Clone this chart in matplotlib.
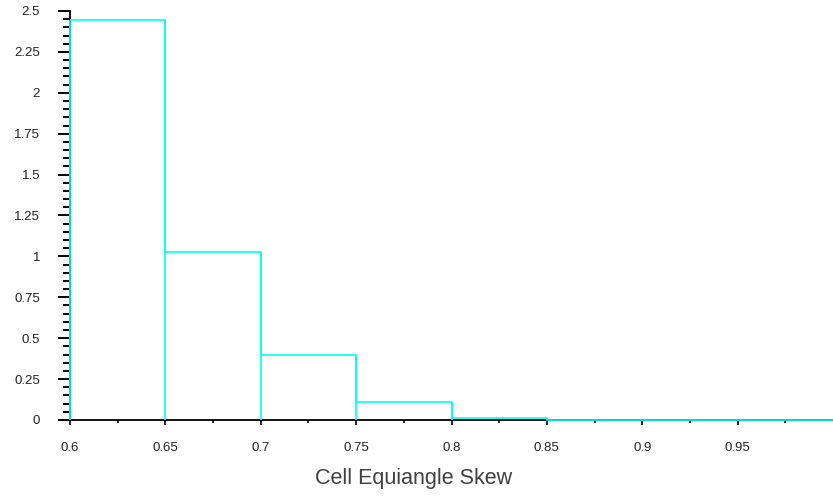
import numpy as np
import matplotlib
matplotlib.use("Agg")
import matplotlib.pyplot as plt
from matplotlib.ticker import FixedLocator, FuncFormatter

# bin edges and heights
bin_edges = [0.60, 0.65, 0.70, 0.75, 0.80, 0.85, 0.90, 0.95, 1.00]
bin_height = [2.445, 1.027, 0.40, 0.108, 0.012, 0.0, 0.0, 0.0]

x_major = [0.6, 0.65, 0.7, 0.75, 0.8, 0.85, 0.9, 0.95]
x_minor = [0.625, 0.675, 0.725, 0.775, 0.825, 0.875, 0.925, 0.975]
y_major = [0, 0.25, 0.5, 0.75, 1, 1.25, 1.5, 1.75, 2, 2.25, 2.5]
x_label = "Cell Equiangle Skew"

plt.rcParams['font.family'] = ['Liberation Sans', 'DejaVu Sans']

fig = plt.figure(figsize=(8.33, 4.96), dpi=100)
ax = fig.add_axes([70 / 833, 76 / 496, 763 / 833, 409 / 496])

cyan = '#00ffff'
# bar tops (no bottom edge, so the black axis shows through)
ax.stairs(bin_height, bin_edges, baseline=None, color=cyan, linewidth=1.2,
          zorder=3, clip_on=False)
# full-height side edges of each bar
padded = [0.0] + bin_height + [0.0]
side_top = [max(padded[i], padded[i + 1]) for i in range(len(bin_edges))]
ax.vlines(bin_edges, 0, side_top, color=cyan, linewidth=1.2, zorder=3,
          clip_on=False)

ax.set_xlim(0.6, 1.0)
ax.set_ylim(0, 2.5)
ax.spines[['right', 'top']].set_visible(False)
for s in ['left', 'bottom']:
    ax.spines[s].set_linewidth(1.3)
    ax.spines[s].set_color('black')

ax.xaxis.set_major_locator(FixedLocator(x_major))
ax.xaxis.set_minor_locator(FixedLocator(x_minor))
ax.yaxis.set_major_locator(FixedLocator(y_major))
ax.yaxis.set_minor_locator(FixedLocator(np.round(np.arange(0, 2.5001, 0.05), 2)))
fmt = FuncFormatter(lambda v, p: f"{v:g}")
ax.xaxis.set_major_formatter(fmt)
ax.yaxis.set_major_formatter(fmt)

ax.tick_params(axis='x', which='major', direction='out', length=3.5, width=1.2,
               pad=12, labelsize=9.5, labelcolor='#222222')
ax.tick_params(axis='x', which='minor', direction='out', length=2.5, width=1.2)
ax.tick_params(axis='y', which='major', direction='out', length=8.5, width=1.4,
               pad=13, labelsize=9.5, labelcolor='#222222')
ax.tick_params(axis='y', which='minor', direction='out', length=5, width=1.4)

fig.text(0.497, 0.036, x_label, ha='center', va='center', fontsize=15.5,
         color='#404040')

fig.savefig("out.png", dpi=100)
plt.close(fig)
